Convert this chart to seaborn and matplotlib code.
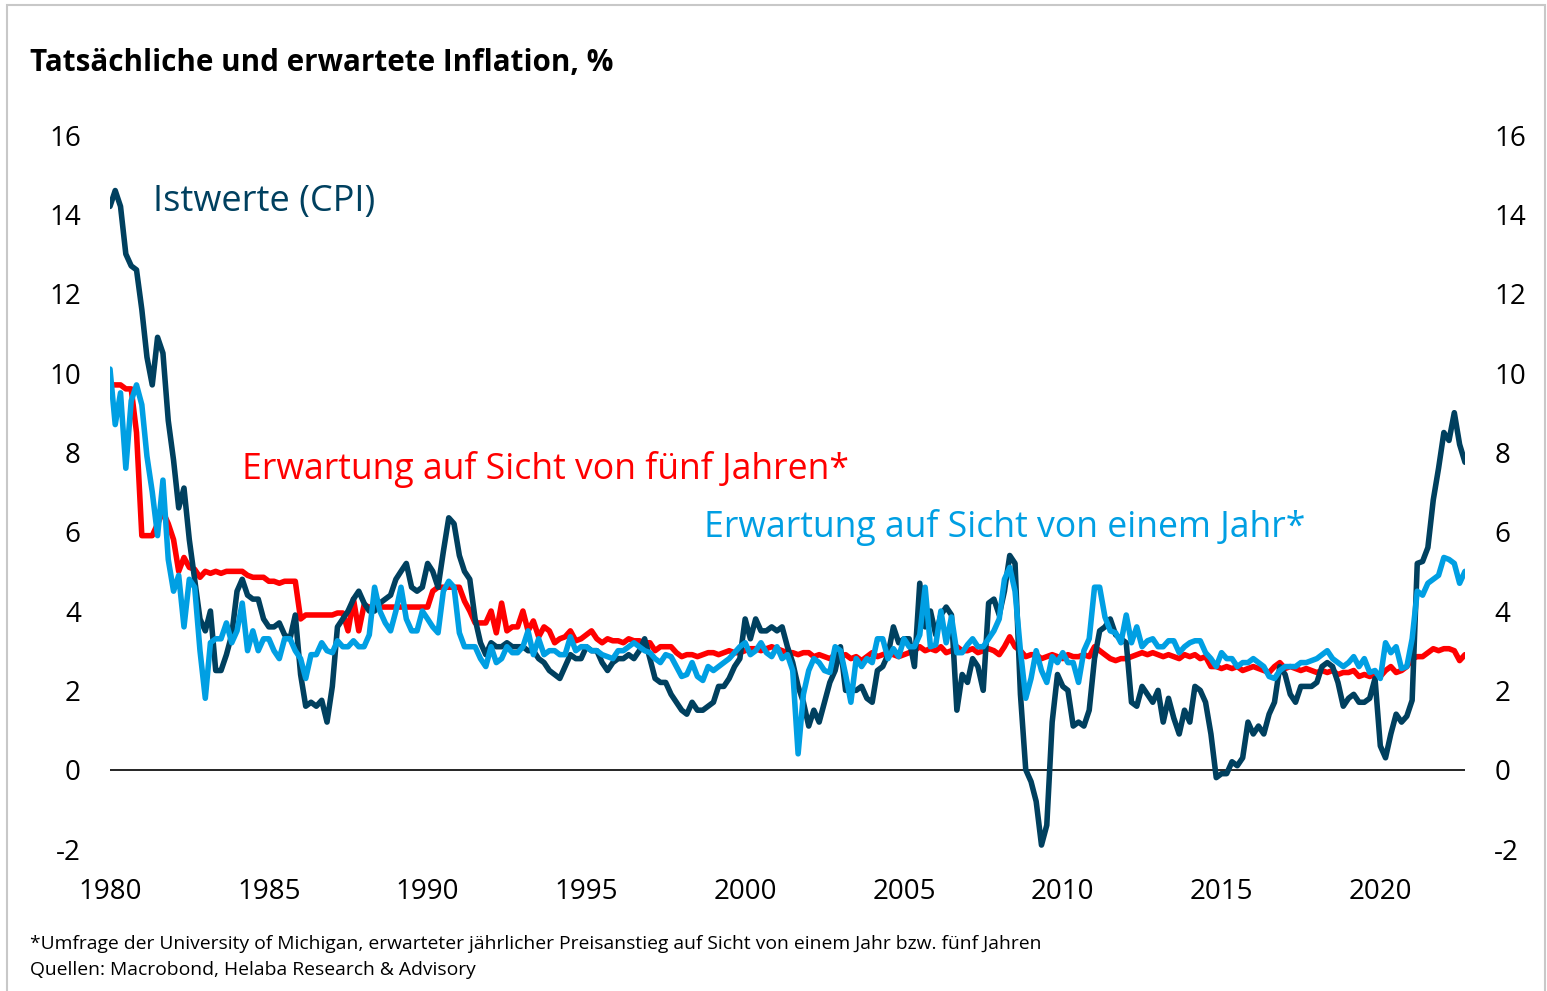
import numpy as np
import pandas as pd
import seaborn as sns
import matplotlib.pyplot as plt
import matplotlib.dates as mdates
from matplotlib.patches import Rectangle

# bimonthly readings, Jan 1980 .. Sep 2022 (6 values per year)
CPI = [
    14.2, 14.6, 14.2, 13.0, 12.7, 12.6,
    11.6, 10.4, 9.7, 10.9, 10.5, 8.8,
    7.8, 6.6, 7.1, 5.8, 4.8, 3.8,
    3.5, 4.0, 2.5, 2.5, 2.9, 3.4,
    4.5, 4.8, 4.4, 4.3, 4.3, 3.8,
    3.6, 3.6, 3.7, 3.4, 3.3, 3.9,
    2.4, 1.6, 1.7, 1.6, 1.75, 1.2,
    2.1, 3.6, 3.8, 4.0, 4.3, 4.5,
    4.2, 4.0, 4.0, 4.2, 4.3, 4.4,
    4.8, 5.0, 5.2, 4.6, 4.5, 4.6,
    5.2, 5.0, 4.6, 5.5, 6.35, 6.2,
    5.4, 5.0, 4.8, 3.8, 3.2, 2.9,
    3.2, 3.1, 3.1, 3.2, 3.1, 3.1,
    3.1, 3.0, 3.0, 2.8, 2.7, 2.5,
    2.4, 2.3, 2.6, 2.9, 2.8, 2.8,
    3.1, 3.0, 3.0, 2.7, 2.5, 2.7,
    2.8, 2.8, 2.9, 2.8, 3.0, 3.3,
    2.8, 2.3, 2.2, 2.2, 1.9, 1.7,
    1.5, 1.4, 1.7, 1.5, 1.5, 1.6,
    1.7, 2.1, 2.1, 2.3, 2.6, 2.8,
    3.8, 3.3, 3.8, 3.5, 3.5, 3.6,
    3.5, 3.6, 3.1, 2.7, 2.1, 1.7,
    1.1, 1.5, 1.2, 1.7, 2.2, 2.5,
    3.1, 2.0, 2.0, 2.0, 2.1, 1.8,
    1.7, 2.5, 2.6, 2.9, 3.6, 3.2,
    3.3, 3.3, 2.6, 4.7, 3.6, 4.0,
    3.4, 3.9, 4.1, 3.9, 1.5, 2.4,
    2.2, 2.8, 2.6, 2.0, 4.2, 4.3,
    3.9, 4.5, 5.4, 5.2, 1.9, 0.0,
    -0.3, -0.8, -1.9, -1.4, 1.2, 2.4,
    2.1, 2.0, 1.1, 1.2, 1.1, 1.5,
    2.8, 3.5, 3.6, 3.8, 3.4, 3.3,
    3.2, 1.7, 1.6, 2.1, 1.9, 1.7,
    2.0, 1.2, 1.8, 1.3, 0.9, 1.5,
    1.2, 2.1, 2.0, 1.7, 0.9, -0.2,
    -0.1, -0.1, 0.2, 0.1, 0.3, 1.2,
    0.9, 1.1, 0.9, 1.4, 1.7, 2.6,
    2.4, 1.9, 1.7, 2.1, 2.1, 2.1,
    2.2, 2.6, 2.7, 2.6, 2.2, 1.6,
    1.8, 1.9, 1.7, 1.7, 1.8, 2.3,
    0.6, 0.3, 0.9, 1.4, 1.2, 1.35,
    1.75, 5.2, 5.25, 5.6, 6.8, 7.6,
    8.5, 8.3, 9.0, 8.2, 7.75,
]

EXP_1Y = [
    10.1, 8.7, 9.5, 7.6, 9.3, 9.7,
    9.2, 7.9, 7.0, 5.9, 7.3, 5.3,
    4.5, 4.9, 3.6, 4.8, 4.6, 3.0,
    1.8, 3.2, 3.3, 3.3, 3.7, 3.2,
    3.5, 4.2, 3.0, 3.5, 3.0, 3.3,
    3.3, 3.0, 2.8, 3.3, 3.3, 3.0,
    2.8, 2.3, 2.9, 2.9, 3.2, 3.0,
    2.95, 3.25, 3.1, 3.1, 3.25, 3.1,
    3.1, 3.4, 4.6, 4.0, 3.7, 3.5,
    4.0, 4.6, 3.8, 3.5, 3.5, 4.0,
    3.8, 3.6, 3.45, 4.5, 4.75, 4.6,
    3.45, 3.1, 3.1, 3.1, 2.8, 2.6,
    3.1, 2.7, 2.8, 3.1, 2.95, 2.95,
    3.1, 3.5, 2.9, 3.3, 2.9, 3.0,
    3.0, 2.9, 2.9, 3.35, 3.0, 3.1,
    3.1, 3.0, 3.0, 2.9, 2.85, 2.8,
    3.0, 3.0, 3.1, 3.2, 3.1, 3.0,
    2.95, 2.8, 2.7, 2.9, 2.85, 2.6,
    2.35, 2.4, 2.7, 2.35, 2.25, 2.6,
    2.5, 2.6, 2.7, 2.8, 2.95, 3.1,
    3.2, 2.9, 3.0, 3.2, 2.95, 2.85,
    3.1, 2.8, 2.9, 2.5, 0.4, 1.9,
    2.5, 2.8, 2.7, 2.5, 2.45, 3.1,
    3.0, 2.4, 1.7, 2.8, 2.6, 2.8,
    2.7, 3.3, 3.3, 2.8, 3.05, 2.85,
    3.3, 3.1, 3.1, 3.4, 4.6, 3.1,
    3.15, 4.0, 3.2, 3.85, 2.95, 2.95,
    3.15, 3.3, 3.1, 3.1, 3.3, 3.5,
    3.8, 4.8, 5.1, 4.5, 3.0, 1.8,
    2.3, 3.0, 2.5, 2.2, 2.85, 2.7,
    2.95, 2.7, 2.7, 2.2, 3.0, 3.3,
    4.6, 4.6, 3.85, 3.5, 3.45, 3.2,
    3.9, 3.2, 3.6, 3.1, 3.25, 3.3,
    3.1, 3.1, 3.25, 3.25, 2.95, 3.1,
    3.2, 3.25, 3.25, 2.95, 2.8, 2.6,
    2.95, 2.8, 2.8, 2.6, 2.7, 2.7,
    2.8, 2.7, 2.6, 2.35, 2.3, 2.5,
    2.6, 2.6, 2.6, 2.7, 2.7, 2.75,
    2.8, 2.9, 3.0, 2.8, 2.7, 2.6,
    2.7, 2.85, 2.6, 2.8, 2.45, 2.5,
    2.3, 3.2, 2.95, 3.1, 2.55, 2.6,
    3.3, 4.5, 4.4, 4.7, 4.8, 4.9,
    5.35, 5.3, 5.2, 4.7, 5.0,
]

EXP_5Y = [
    9.7, 9.7, 9.7, 9.6, 9.6, 8.5,
    5.9, 5.9, 5.9, 6.2, 6.5, 6.2,
    5.8, 5.0, 5.35, 5.1, 5.05, 4.85,
    5.0, 4.95, 5.0, 4.95, 5.0, 5.0,
    5.0, 5.0, 4.9, 4.85, 4.85, 4.85,
    4.75, 4.75, 4.7, 4.75, 4.75, 4.75,
    3.8, 3.9, 3.9, 3.9, 3.9, 3.9,
    3.9, 3.95, 3.95, 3.5, 4.3, 3.5,
    4.15, 4.1, 4.1, 4.1, 4.1, 4.1,
    4.1, 4.1, 4.1, 4.1, 4.1, 4.1,
    4.1, 4.5, 4.6, 4.6, 4.6, 4.6,
    4.6, 4.25, 4.0, 3.7, 3.7, 3.7,
    4.0, 3.45, 4.2, 3.5, 3.6, 3.6,
    4.0, 3.5, 3.75, 3.35, 3.6, 3.5,
    3.2, 3.3, 3.35, 3.5, 3.25, 3.3,
    3.4, 3.5, 3.3, 3.2, 3.3, 3.25,
    3.25, 3.2, 3.3, 3.25, 3.25, 3.2,
    3.2, 3.0, 3.1, 3.1, 3.1, 2.95,
    2.85, 2.9, 2.9, 2.85, 2.9, 2.95,
    2.95, 2.9, 2.95, 3.0, 2.95, 2.95,
    3.0, 3.05, 3.05, 3.0, 3.05, 3.1,
    3.05, 3.0, 2.95, 2.95, 2.9, 2.95,
    2.95, 2.85, 2.9, 2.85, 2.8, 2.9,
    2.85, 2.9, 2.8, 2.85, 2.75, 2.85,
    2.95, 2.85, 2.9, 2.95, 2.9, 2.85,
    2.9, 2.95, 3.0, 3.1, 3.0, 3.05,
    3.0, 3.1, 2.95, 3.0, 3.1, 3.0,
    3.0, 3.05, 2.95, 3.0, 3.05, 3.0,
    2.9, 3.1, 3.35, 3.1, 3.0, 2.85,
    2.9, 2.9, 2.8, 2.85, 2.9, 2.85,
    2.8, 2.9, 2.85, 2.85, 2.9, 2.85,
    3.1, 3.0, 2.9, 2.8, 2.75, 2.8,
    2.8, 2.85, 2.9, 2.95, 2.9, 2.95,
    2.9, 2.85, 2.9, 2.85, 2.8, 2.9,
    2.85, 2.9, 2.8, 2.85, 2.6, 2.6,
    2.55, 2.6, 2.55, 2.6, 2.5, 2.55,
    2.6, 2.55, 2.5, 2.45, 2.6, 2.7,
    2.55, 2.6, 2.55, 2.5, 2.55, 2.5,
    2.45, 2.5, 2.45, 2.5, 2.4, 2.45,
    2.45, 2.5, 2.35, 2.4, 2.35, 2.4,
    2.35, 2.5, 2.6, 2.45, 2.5, 2.6,
    2.8, 2.85, 2.85, 2.95, 3.05, 3.0,
    3.05, 3.05, 3.0, 2.75, 2.9,
]

START = '1980-01-01'
Y_TICKS = [-2, 0, 2, 4, 6, 8, 10, 12, 14, 16]

NAVY = '#00405f'
RED = '#ff0000'
BLUE = '#009fe3'

TITLE = 'Tatsächliche und erwartete Inflation, %'
FOOTNOTE = ('*Umfrage der University of Michigan, erwarteter jährlicher Preisanstieg '
            'auf Sicht von einem Jahr bzw. fünf Jahren')
SOURCE = 'Quellen: Macrobond, Helaba Research & Advisory'

W, H = 1547, 991


def fx(px):
    return px / W


def fy(py):
    return 1 - py / H


dates = pd.date_range(START, periods=len(CPI), freq='2MS')
df = pd.DataFrame({'date': dates, 'cpi': CPI, 'exp1': EXP_1Y, 'exp5': EXP_5Y})

sns.set_theme(style='white')
plt.rcParams['font.family'] = ['Open Sans', 'DejaVu Sans']
plt.rcParams['text.color'] = 'black'

fig = plt.figure(figsize=(W / 100, H / 100), dpi=100)
ax = fig.add_axes([fx(110), fy(853), fx(1465) - fx(110), fy(135) - fy(853)])

sns.lineplot(data=df, x='date', y='exp5', ax=ax, color=RED, lw=4)
sns.lineplot(data=df, x='date', y='cpi', ax=ax, color=NAVY, lw=4)
sns.lineplot(data=df, x='date', y='exp1', ax=ax, color=BLUE, lw=4)
ax.axhline(0, color='black', lw=1.2, zorder=1)

ax.set_xlim(pd.Timestamp(START), dates[-1])
ax.set_ylim(-2.1, 16)
ax.set_yticks(Y_TICKS)
ax.set_yticklabels([str(v) for v in Y_TICKS])
ax.xaxis.set_major_locator(mdates.YearLocator(5))
ax.xaxis.set_major_formatter(mdates.DateFormatter('%Y'))
ax.set_xlabel('')
ax.set_ylabel('')
for s in ax.spines.values():
    s.set_visible(False)
ax.grid(False)
ax.tick_params(axis='y', length=0, labelsize=20, labelcolor='black',
               labelleft=True, labelright=True, pad=21)
ax.tick_params(axis='x', length=0, labelsize=20, labelcolor='black', pad=18)

fig.text(fx(30), fy(63), TITLE, fontsize=21.3, fontweight='bold', va='center', ha='left')
fig.text(fx(153), fy(202), 'Istwerte (CPI)', fontsize=26, color=NAVY, va='center', ha='left')
fig.text(fx(242), fy(470), 'Erwartung auf Sicht von fünf Jahren*', fontsize=25.7,
         color=RED, va='center', ha='left')
fig.text(fx(704), fy(528), 'Erwartung auf Sicht von einem Jahr*', fontsize=25.7,
         color=BLUE, va='center', ha='left')
fig.text(fx(30), fy(944), FOOTNOTE, fontsize=13.9, va='center', ha='left')
fig.text(fx(30), fy(970), SOURCE, fontsize=13.9, va='center', ha='left')

fig.patches.append(Rectangle((fx(7), -0.01), fx(1545) - fx(7), fy(5) + 0.01,
                             transform=fig.transFigure, fill=False,
                             edgecolor='#c8c8c8', lw=1.5))

fig.savefig('out.png', dpi=100)
